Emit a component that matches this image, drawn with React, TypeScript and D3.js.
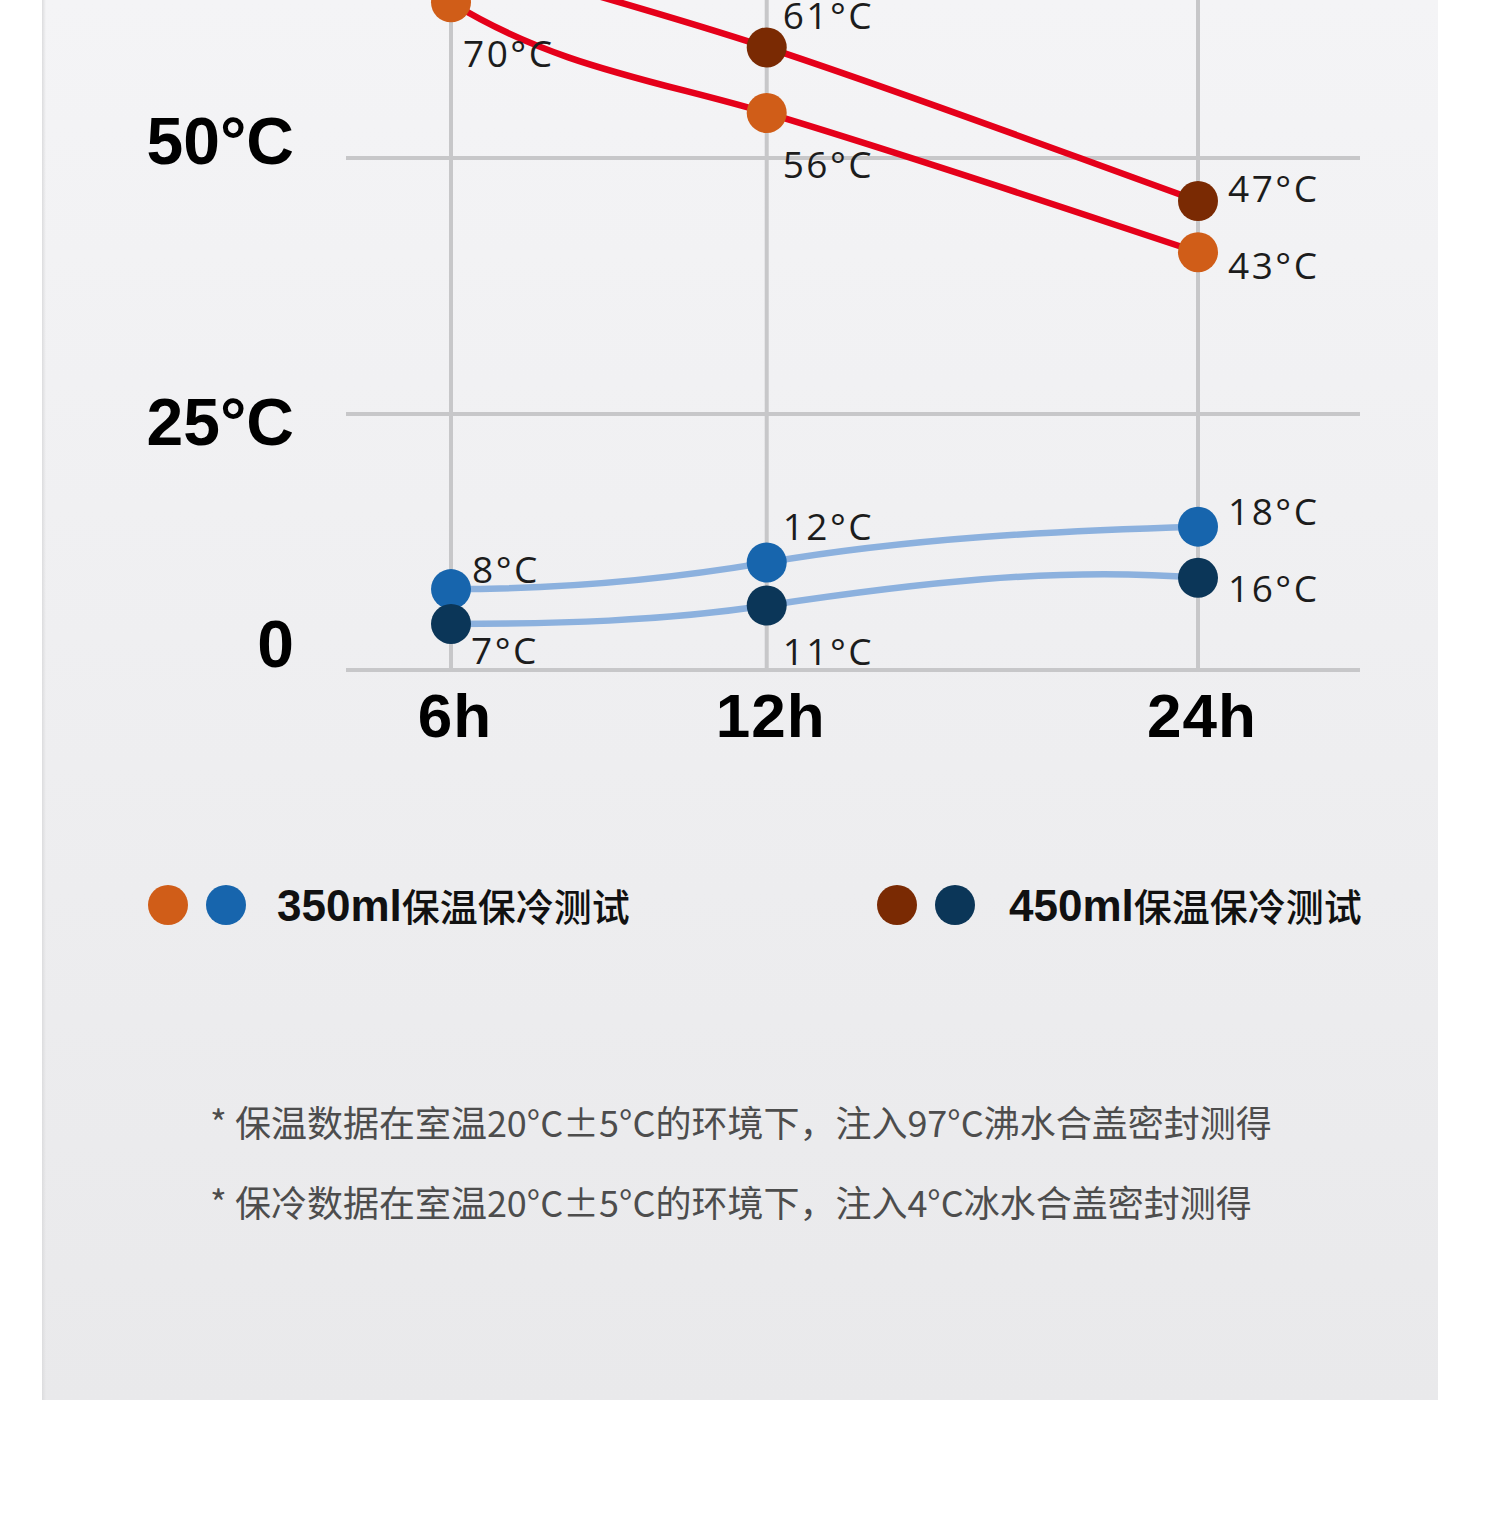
import React from "react";
import * as d3 from "d3";

// ---------- data ----------
const hours = [6, 12, 24];
const hourLabels = ["6h", "12h", "24h"];
const yTicks = [0, 25, 50];
const yTickLabels = ["0", "25°C", "50°C"];

// plotted positions (read against the axis)
const hot350 = [65.2, 54.4, 40.8];
const hot450 = [70.0, 60.8, 45.8];
const cold350 = [7.9, 10.5, 14.0];
const cold450 = [4.5, 6.3, 9.0];

// printed values
const hot350Labels = ["70°C", "56°C", "43°C"];
const hot450Labels = [null, "61°C", "47°C"]; // 6h label lies outside the crop
const cold350Labels = ["8°C", "12°C", "18°C"];
const cold450Labels = ["7°C", "11°C", "16°C"];

const legendNames = ["350ml", "450ml"];
const legendSuffix = "保温保冷测试";
const footnotes = [
  "* 保温数据在室温20°C±5°C的环境下，注入97°C沸水合盖密封测得",
  "* 保冷数据在室温20°C±5°C的环境下，注入4°C冰水合盖密封测得",
];

// ---------- layout / style ----------
const W = 1500;
const H = 1515;
const RED = "#e5001a";
const LIGHTBLUE = "#8cb1de";
const ORANGE = "#d05d18";
const BROWN = "#7a2a03";
const BLUE = "#1765ad";
const NAVY = "#0b3658";

const series = [
  {
    values: hot450, labels: hot450Labels, line: RED, marker: BROWN,
    tangents: [0.3, 0.33, 0.36],
    offsets: [[16, -20], [16, -18], [30, 1]],
  },
  {
    values: hot350, labels: hot350Labels, line: RED, marker: ORANGE,
    tangents: [0.62, 0.3, 0.33],
    offsets: [[12, 65], [16, 65], [30, 27]],
  },
  {
    values: cold350, labels: cold350Labels, line: LIGHTBLUE, marker: BLUE,
    tangents: [0.0, -0.17, -0.03],
    offsets: [[21, -6], [16, -22], [30, -2]],
  },
  {
    values: cold450, labels: cold450Labels, line: LIGHTBLUE, marker: NAVY,
    tangents: [0.0, -0.15, 0.08],
    offsets: [[20, 40], [16, 60], [30, 24]],
  },
];

const yLabelBaselineShift = [-3, 31, 6]; // per tick (0, 25, 50)

function hermitePath(pts: [number, number][], m: number[]) {
  const p = d3.path();
  p.moveTo(pts[0][0], pts[0][1]);
  for (let i = 1; i < pts.length; i++) {
    const [x0, y0] = pts[i - 1];
    const [x1, y1] = pts[i];
    const h = x1 - x0;
    p.bezierCurveTo(
      x0 + h / 3, y0 + (m[i - 1] * h) / 3,
      x1 - h / 3, y1 - (m[i] * h) / 3,
      x1, y1
    );
  }
  return p.toString();
}

export default function App() {
  const x = d3.scalePow().exponent(0.45).domain([6, 24]).range([451, 1198]);
  const y = d3.scaleLinear().domain([0, 50]).range([670, 158]);
  const gridLeft = 346;
  const gridRight = 1360;

  const labelFont = "'Open Sans', 'Noto Sans', sans-serif";
  const boldFont = "'Liberation Sans', Arial, sans-serif";
  const cjkFont = "'Noto Sans CJK SC', sans-serif";

  const legendItems = [
    { name: legendNames[0], colors: [ORANGE, BLUE], cx: 168, text: 277 },
    { name: legendNames[1], colors: [BROWN, NAVY], cx: 897, text: 1009 },
  ];

  return (
    <>
      <style>{`body{margin:0;background:#fff}`}</style>
      <svg width={W} height={H} style={{ display: "block" }}>
        <defs>
          <linearGradient id="panelBg" x1="0" y1="0" x2="0" y2="1">
            <stop offset="0" stopColor="#f4f4f6" />
            <stop offset="1" stopColor="#e9e9eb" />
          </linearGradient>
          <linearGradient id="edge" x1="0" y1="0" x2="1" y2="0">
            <stop offset="0" stopColor="#dcdcde" />
            <stop offset="1" stopColor="#dcdcde" stopOpacity="0" />
          </linearGradient>
        </defs>
        <rect x={0} y={0} width={W} height={H} fill="#ffffff" />
        <rect x={42} y={0} width={1396} height={1400} fill="url(#panelBg)" />
        <rect x={42} y={0} width={4} height={1400} fill="url(#edge)" />

        {/* grid */}
        {yTicks.map((t) => (
          <line key={"h" + t} x1={gridLeft} x2={gridRight} y1={y(t)} y2={y(t)}
            stroke="#c7c7c9" strokeWidth={4} />
        ))}
        {hours.map((h) => (
          <line key={"v" + h} x1={x(h)} x2={x(h)} y1={0} y2={y(0)}
            stroke="#c7c7c9" strokeWidth={4} />
        ))}

        {/* y labels */}
        {yTicks.map((t, i) => (
          <text key={"yl" + t} x={294} y={y(t) + yLabelBaselineShift[i]}
            textAnchor="end" fontFamily={boldFont} fontWeight={700}
            fontSize={66} fill="#000">
            {yTickLabels[i]}
          </text>
        ))}

        {/* x labels */}
        {hours.map((h, i) => (
          <text key={"xl" + h} x={x(h) + 4} y={737} textAnchor="middle"
            fontFamily={boldFont} fontWeight={700} fontSize={62} fill="#000"
            letterSpacing={1}>
            {hourLabels[i]}
          </text>
        ))}

        {/* lines */}
        {series.map((s, si) => {
          const pts = s.values.map((v, i) => [x(hours[i]), y(v)] as [number, number]);
          return (
            <path key={"l" + si} d={hermitePath(pts, s.tangents)} fill="none"
              stroke={s.line} strokeWidth={6.5} strokeLinecap="round" />
          );
        })}

        {/* markers */}
        {series.map((s, si) =>
          s.values.map((v, i) => (
            <circle key={"m" + si + "-" + i} cx={x(hours[i])} cy={y(v)} r={20}
              fill={s.marker} />
          ))
        )}

        {/* value labels */}
        {series.map((s, si) =>
          s.values.map((v, i) =>
            s.labels[i] ? (
              <text key={"t" + si + "-" + i}
                x={x(hours[i]) + s.offsets[i][0]} y={y(v) + s.offsets[i][1]}
                fontFamily={labelFont} fontSize={37} fill="#1c1c1c"
                letterSpacing={2.5}>
                {s.labels[i]}
              </text>
            ) : null
          )
        )}

        {/* legend */}
        {legendItems.map((it, k) => (
          <g key={"lg" + k}>
            <circle cx={it.cx} cy={905} r={20} fill={it.colors[0]} />
            <circle cx={it.cx + 58} cy={905} r={20} fill={it.colors[1]} />
            <text x={it.text} y={921} fill="#111">
              <tspan fontFamily={boldFont} fontWeight={700} fontSize={44}>{it.name}</tspan>
              <tspan fontFamily={cjkFont} fontWeight={500} fontSize={38}>{legendSuffix}</tspan>
            </text>
          </g>
        ))}

        {/* footnotes */}
        {footnotes.map((f, i) => (
          <text key={"fn" + i} x={210} y={1137 + i * 80} fontFamily={cjkFont}
            fontSize={36} fill="#4d4d4d">
            {f}
          </text>
        ))}
      </svg>
    </>
  );
}
